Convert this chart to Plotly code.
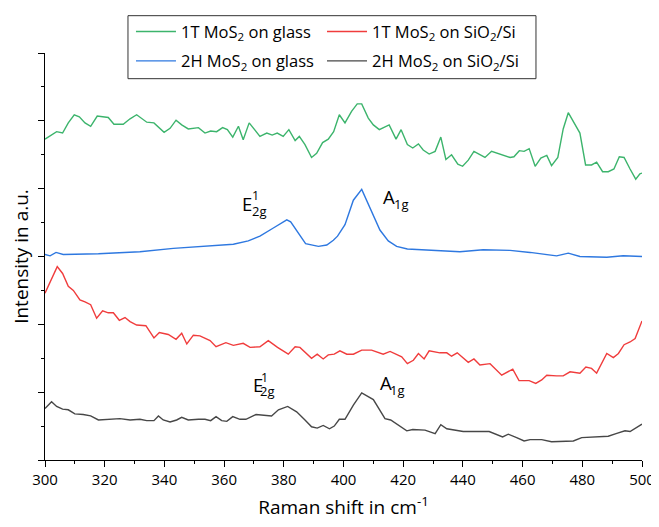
import plotly.graph_objects as go

# ---------------- data ----------------
green_name = "1T MoS<sub>2</sub> on glass"
red_name = "1T MoS<sub>2</sub> on SiO<sub>2</sub>/Si"
blue_name = "2H MoS<sub>2</sub> on glass"
black_name = "2H MoS<sub>2</sub> on SiO<sub>2</sub>/Si"

green_x = [300.0,303.9,305.9,307.8,309.8,311.5,313.4,315.3,317.5,321.2,323.1,326.2,328.5,330.7,334.1,336.5,339.9,341.9,343.9,345.8,348.0,351.4,353.6,355.5,357.5,359.5,361.1,362.9,364.8,366.4,368.4,372.0,374.3,376.1,377.8,379.8,381.7,383.8,385.2,387.1,389.3,391.0,393.0,394.9,396.7,398.6,400.5,402.7,404.6,406.1,408.3,410.0,412.0,415.3,417.6,419.3,421.4,423.2,425.1,426.7,428.7,430.7,432.6,434.3,436.2,438.3,439.9,441.8,443.7,447.4,449.6,452.4,455.8,457.1,458.9,460.5,462.2,464.2,466.1,468.1,469.7,471.8,473.6,475.3,477.3,479.2,481.1,483.1,484.8,486.8,488.7,490.6,492.4,494.0,496.0,497.9,499.3,500.0]
green_y = [4.73,4.84,4.82,4.97,5.09,5.06,4.97,4.92,5.07,5.05,4.95,4.95,5.03,5.09,4.98,4.97,4.83,4.89,5.01,4.94,4.88,4.90,4.82,4.85,4.84,4.90,4.87,4.76,4.92,4.72,4.97,4.77,4.82,4.79,4.82,4.77,4.87,4.71,4.77,4.65,4.46,4.52,4.68,4.73,4.84,5.09,4.97,5.14,5.25,5.25,5.04,4.94,4.87,4.94,4.73,4.87,4.65,4.60,4.66,4.57,4.51,4.55,4.76,4.43,4.50,4.36,4.33,4.42,4.55,4.46,4.55,4.51,4.46,4.47,4.56,4.55,4.59,4.33,4.45,4.49,4.34,4.46,4.88,5.12,4.97,4.82,4.35,4.35,4.39,4.25,4.25,4.29,4.47,4.46,4.29,4.14,4.22,4.23]

blue_x = [300.0,301.7,303.7,306.1,317.9,331.8,343.0,354.2,363.1,368.1,372.0,376.5,381.0,382.3,384.9,387.3,391.6,394.4,396.6,398.0,400.5,403.3,406.1,408.9,412.2,415.0,417.8,421.4,429.0,439.0,446.8,455.8,462.5,471.4,475.3,479.2,488.2,493.7,500.0]
blue_y = [3.03,3.01,3.06,3.03,3.04,3.07,3.12,3.15,3.18,3.23,3.30,3.42,3.54,3.51,3.34,3.19,3.15,3.17,3.24,3.30,3.47,3.83,3.99,3.71,3.39,3.23,3.15,3.11,3.09,3.07,3.10,3.09,3.06,3.01,3.05,3.00,2.99,3.01,3.00]

red_x = [300.0,302.2,304.1,305.9,307.8,309.5,311.7,313.4,315.3,317.3,319.3,321.2,322.9,324.9,326.8,328.5,330.7,333.8,336.5,338.3,341.3,343.9,345.8,347.5,349.7,351.9,355.3,357.3,360.6,363.1,366.4,368.7,372.0,374.8,377.9,381.5,383.8,385.4,389.3,391.2,393.2,394.9,396.9,398.8,401.1,403.3,406.1,409.4,413.3,415.6,419.5,421.4,423.4,425.1,427.0,428.7,432.3,434.6,436.2,438.1,441.8,443.7,445.7,449.1,453.0,456.7,458.8,462.2,464.4,466.4,468.1,471.4,473.6,475.9,479.2,481.2,483.1,484.8,486.5,488.2,490.4,492.1,494.0,496.0,497.7,500.0]
red_y = [2.46,2.68,2.85,2.75,2.56,2.50,2.36,2.33,2.29,2.09,2.20,2.17,2.17,2.06,2.10,2.04,1.99,1.98,1.80,1.88,1.85,1.78,1.87,1.71,1.84,1.83,1.76,1.67,1.73,1.69,1.72,1.66,1.67,1.76,1.66,1.56,1.67,1.66,1.50,1.56,1.49,1.55,1.56,1.61,1.56,1.56,1.62,1.62,1.56,1.60,1.52,1.42,1.47,1.57,1.49,1.61,1.58,1.58,1.53,1.58,1.44,1.49,1.40,1.42,1.25,1.34,1.17,1.17,1.13,1.18,1.25,1.24,1.24,1.30,1.28,1.37,1.35,1.28,1.43,1.57,1.51,1.57,1.70,1.74,1.79,2.05]

black_x = [300.0,302.2,303.9,305.9,307.8,310.0,312.8,315.3,317.9,320.7,325.1,328.5,331.8,334.1,336.5,338.0,339.6,341.9,344.1,345.8,348.0,351.4,353.6,355.5,357.3,359.2,360.9,362.9,365.3,367.3,370.7,375.9,378.2,381.3,384.3,387.1,389.3,391.2,393.2,395.3,396.9,398.6,400.5,403.3,406.1,410.0,413.9,415.8,421.2,423.2,427.3,430.7,432.6,434.6,440.1,443.5,448.8,453.3,455.2,458.0,460.5,462.5,466.4,469.7,473.4,477.0,479.8,484.8,488.7,491.3,494.3,496.0,500.0]
black_y = [0.76,0.86,0.79,0.75,0.74,0.68,0.67,0.65,0.59,0.60,0.61,0.59,0.60,0.58,0.58,0.65,0.59,0.56,0.59,0.63,0.59,0.60,0.60,0.58,0.64,0.58,0.57,0.64,0.60,0.60,0.67,0.65,0.74,0.79,0.71,0.59,0.49,0.47,0.51,0.46,0.50,0.60,0.60,0.81,0.99,0.89,0.61,0.59,0.43,0.45,0.44,0.39,0.52,0.46,0.42,0.42,0.42,0.34,0.38,0.33,0.28,0.30,0.30,0.27,0.28,0.28,0.33,0.34,0.35,0.39,0.43,0.42,0.53]

x_tick_vals = [300, 320, 340, 360, 380, 400, 420, 440, 460, 480, 500]
x_tick_text = ["300", "320", "340", "360", "380", "400", "420", "440", "460", "480", "500"]

# peak labels: letter, superscript, subscript and their centre positions (data units)
peak_labels = [
    # (letter, letter_x, letter_y, sup, sup_x, sup_y, sub, sub_x, sub_y)
    ("E", 367.6, 3.776, "1", 370.5, 3.894, "2g", 371.7, 3.665),
    ("A", 415.1, 3.883, "", 0, 0, "1g", 419.3, 3.776),
    ("E", 371.2, 1.106, "1", 373.4, 1.210, "2g", 374.5, 1.010),
    ("A", 414.2, 1.143, "", 0, 0, "1g", 418.2, 1.030),
]

# ---------------- figure ----------------
FONT = "Open Sans"
fig = go.Figure()

fig.add_trace(go.Scatter(x=green_x, y=green_y, mode="lines", name=green_name,
                         line=dict(color="#3cb46c", width=1.4), legend="legend"))
fig.add_trace(go.Scatter(x=red_x, y=red_y, mode="lines", name=red_name,
                         line=dict(color="#f03c3c", width=1.4), legend="legend2"))
fig.add_trace(go.Scatter(x=blue_x, y=blue_y, mode="lines", name=blue_name,
                         line=dict(color="#2e78e0", width=1.4), legend="legend3"))
fig.add_trace(go.Scatter(x=black_x, y=black_y, mode="lines", name=black_name,
                         line=dict(color="#474747", width=1.4), legend="legend4"))

annotations = []
for letter, lx, ly, sup, sx, sy, sub, bx, by in peak_labels:
    annotations.append(dict(x=lx, y=ly, xref="x", yref="y", xanchor="center", yanchor="middle",
                            text=letter, showarrow=False,
                            font=dict(family=FONT, size=18.5, color="black")))
    if sup:
        annotations.append(dict(x=sx, y=sy, xref="x", yref="y", xanchor="center", yanchor="middle",
                                text=sup, showarrow=False,
                                font=dict(family=FONT, size=12.5, color="black")))
    annotations.append(dict(x=bx, y=by, xref="x", yref="y", xanchor="center", yanchor="middle",
                            text=sub, showarrow=False,
                            font=dict(family=FONT, size=13, color="black")))

leg_common = dict(orientation="h", xanchor="left", yanchor="middle",
                  bgcolor="rgba(0,0,0,0)", borderwidth=0,
                  font=dict(family=FONT, size=16.5, color="black"),
                  itemwidth=40, tracegroupgap=0)

COL1_X, COL2_X = 0.144, 0.464
ROW1_Y, ROW2_Y = 1.052, 0.980

# The page body adds an 8px offset, so the figure is 8px smaller and its
# margins are reduced accordingly to keep the plot area where the reference has it.
fig.update_layout(
    width=651, height=519,
    margin=dict(l=37, r=17, t=45, b=67, autoexpand=False),
    plot_bgcolor="white", paper_bgcolor="white",
    showlegend=True,
    legend=dict(x=COL1_X, y=ROW1_Y, **leg_common),
    legend2=dict(x=COL2_X, y=ROW1_Y, **leg_common),
    legend3=dict(x=COL1_X, y=ROW2_Y, **leg_common),
    legend4=dict(x=COL2_X, y=ROW2_Y, **leg_common),
    annotations=annotations,
    shapes=[dict(type="rect", xref="paper", yref="paper",
                 x0=0.139, x1=0.8224, y0=0.9369, y1=1.0917,
                 line=dict(color="#333333", width=1), fillcolor="rgba(0,0,0,0)")],
    xaxis=dict(range=[300, 500], tickvals=x_tick_vals, ticktext=x_tick_text,
               ticks="outside", ticklen=6, tickwidth=1, tickcolor="black",
               minor=dict(dtick=10, ticks="outside", ticklen=3, tickcolor="black"),
               showline=True, linecolor="black", linewidth=1, showgrid=False, zeroline=False,
               automargin=False,
               tickfont=dict(family=FONT, size=15, color="black"),
               title=dict(text="Raman shift in cm<sup>-1</sup>", standoff=12,
                          font=dict(family=FONT, size=19, color="black"))),
    yaxis=dict(range=[0, 6], dtick=1, tick0=0, showticklabels=False,
               ticks="outside", ticklen=6, tickwidth=1, tickcolor="black",
               minor=dict(dtick=0.5, ticks="outside", ticklen=3, tickcolor="black"),
               showline=True, linecolor="black", linewidth=1, showgrid=False, zeroline=False,
               automargin=False,
               title=dict(text="Intensity in a.u.", standoff=12,
                          font=dict(family=FONT, size=19, color="black"))),
)

fig.write_html("out.html")
